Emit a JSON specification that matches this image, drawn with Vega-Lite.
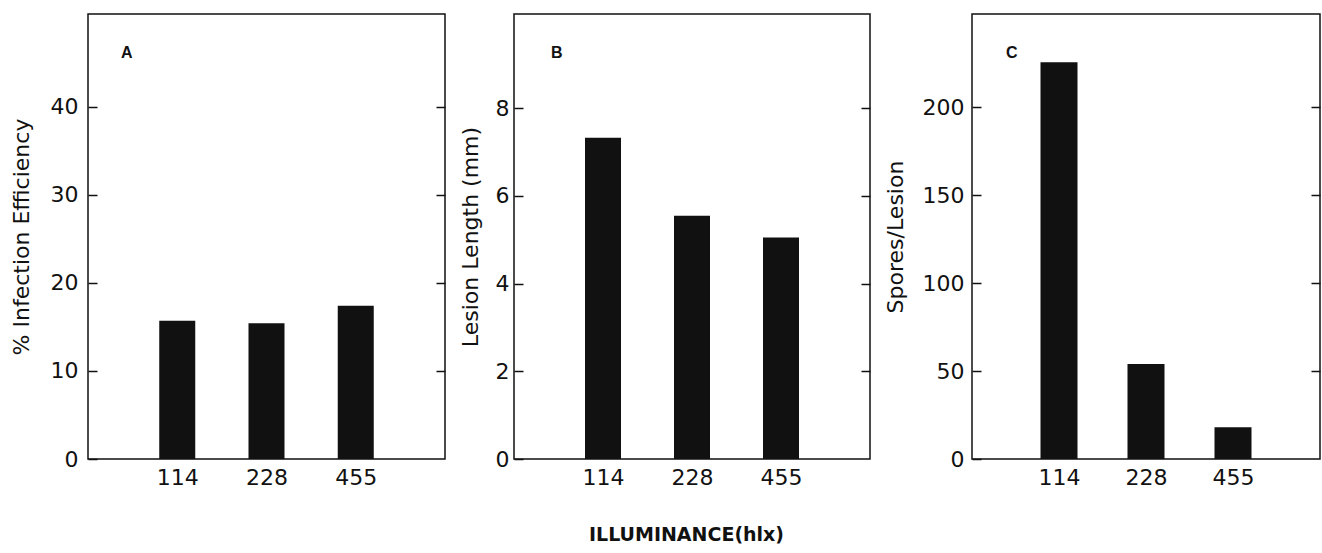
{
  "$schema": "https://vega.github.io/schema/vega-lite/v6.json",
  "padding": {"left": 9, "top": 13, "right": 0, "bottom": 4},
  "background": "white",
  "datasets": {
    "A": [{"lux": "114", "value": 15.7}, {"lux": "228", "value": 15.4}, {"lux": "455", "value": 17.4}],
    "B": [{"lux": "114", "value": 7.33}, {"lux": "228", "value": 5.55}, {"lux": "455", "value": 5.05}],
    "C": [{"lux": "114", "value": 225.5}, {"lux": "228", "value": 54}, {"lux": "455", "value": 18}]
  },
  "spacing": 11,
  "hconcat": [
    {
      "width": 357, "height": 445,
      "title": {"text": "A", "anchor": "start", "frame": "group", "orient": "top", "offset": -60, "dx": 33, "fontSize": 16, "fontWeight": "bold", "baseline": "alphabetic", "color": "#111", "font": "Liberation Sans"},
      "data": {"name": "A"},
      "layer": [
        {
          "mark": {"type": "bar", "size": 36, "color": "#111"},
          "encoding": {
            "x": {"field": "lux", "type": "ordinal", "sort": null, "scale": {"type": "point", "padding": 1}, "axis": {"title": null, "labelAngle": 0, "ticks": false, "labelPadding": 8}},
            "y": {"field": "value", "type": "quantitative", "scale": {"domain": [0, 50.5], "nice": false, "zero": true}, "axis": {"orient": "left", "values": [0, 10, 20, 30, 40], "tickSize": -9, "labelPadding": 19, "title": "% Infection Efficiency", "titlePadding": 17}}
          }
        },
        {
          "mark": {"type": "bar", "size": 36, "opacity": 0},
          "encoding": {
            "x": {"field": "lux", "type": "ordinal", "sort": null},
            "y": {"field": "value", "type": "quantitative", "axis": {"orient": "right", "values": [10, 20, 30, 40], "tickSize": -9, "labels": false, "title": null}}
          }
        }
      ],
      "resolve": {"axis": {"y": "independent"}}
    },
    {
      "width": 356, "height": 445,
      "title": {"text": "B", "anchor": "start", "frame": "group", "orient": "top", "offset": -60, "dx": 37, "fontSize": 16, "fontWeight": "bold", "baseline": "alphabetic", "color": "#111", "font": "Liberation Sans"},
      "data": {"name": "B"},
      "layer": [
        {
          "mark": {"type": "bar", "size": 36, "color": "#111"},
          "encoding": {
            "x": {"field": "lux", "type": "ordinal", "sort": null, "scale": {"type": "point", "padding": 1}, "axis": {"title": "ILLUMINANCE(hlx)", "titleFontWeight": "bold", "titleFontSize": 19, "titlePadding": 37, "titleX": 172, "titleAlign": "center", "labelAngle": 0, "ticks": false, "labelPadding": 8}},
            "y": {"field": "value", "type": "quantitative", "scale": {"domain": [0, 10.15], "nice": false, "zero": true}, "axis": {"orient": "left", "values": [0, 2, 4, 6, 8], "tickSize": -9, "labelPadding": 14, "title": "Lesion Length (mm)", "titlePadding": 13}}
          }
        },
        {
          "mark": {"type": "bar", "size": 36, "opacity": 0},
          "encoding": {
            "x": {"field": "lux", "type": "ordinal", "sort": null},
            "y": {"field": "value", "type": "quantitative", "axis": {"orient": "right", "values": [2, 4, 6, 8], "tickSize": -9, "labels": false, "title": null}}
          }
        }
      ],
      "resolve": {"axis": {"y": "independent"}}
    },
    {
      "width": 348, "height": 445,
      "title": {"text": "C", "anchor": "start", "frame": "group", "orient": "top", "offset": -60, "dx": 34, "fontSize": 16, "fontWeight": "bold", "baseline": "alphabetic", "color": "#111", "font": "Liberation Sans"},
      "data": {"name": "C"},
      "layer": [
        {
          "mark": {"type": "bar", "size": 37, "color": "#111"},
          "encoding": {
            "x": {"field": "lux", "type": "ordinal", "sort": null, "scale": {"type": "point", "padding": 1}, "axis": {"title": null, "labelAngle": 0, "ticks": false, "labelPadding": 8}},
            "y": {"field": "value", "type": "quantitative", "scale": {"domain": [0, 253], "nice": false, "zero": true}, "axis": {"orient": "left", "values": [0, 50, 100, 150, 200], "tickSize": -9, "labelPadding": 17, "title": "Spores/Lesion", "titlePadding": 15}}
          }
        },
        {
          "mark": {"type": "bar", "size": 37, "opacity": 0},
          "encoding": {
            "x": {"field": "lux", "type": "ordinal", "sort": null},
            "y": {"field": "value", "type": "quantitative", "axis": {"orient": "right", "values": [50, 100, 150, 200], "tickSize": -9, "labels": false, "title": null}}
          }
        }
      ],
      "resolve": {"axis": {"y": "independent"}}
    }
  ],
  "config": {
    "font": "DejaVu Sans",
    "view": {"stroke": "#111", "strokeWidth": 1.5},
    "axis": {"grid": false, "domain": false, "labelFont": "DejaVu Sans", "labelFontSize": 22, "labelColor": "#111", "titleFont": "DejaVu Sans", "titleFontSize": 22, "titleFontWeight": "normal", "titleColor": "#111", "tickColor": "#111", "tickWidth": 1.5}
  }
}
